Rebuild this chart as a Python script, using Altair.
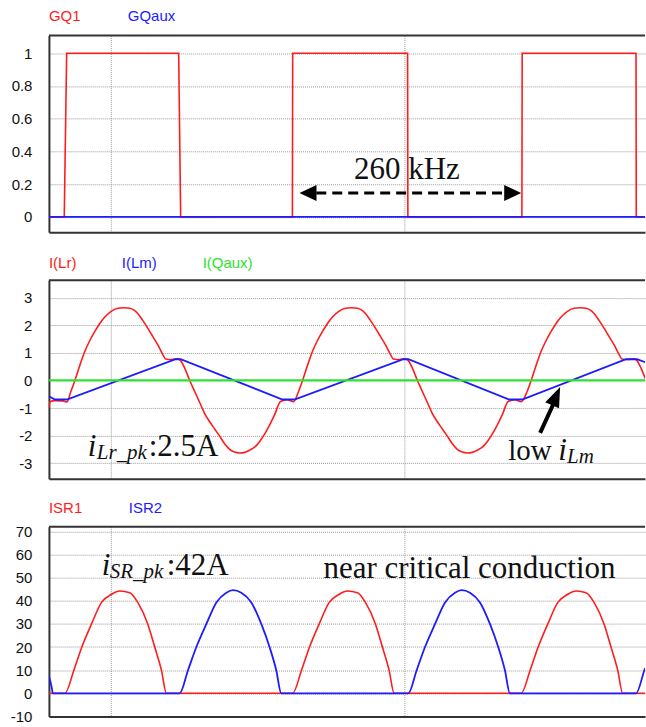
import altair as alt
import pandas as pd

# ---------------- waveform samples (time in microseconds) ----------------
# Gate drive signals
gq1_t = [3.946, 4.207, 4.248, 6.156, 6.190, 8.093, 8.098, 10.055, 10.060,
         12.002, 12.007, 13.946, 13.950, 14.099]
gq1_v = [0, 0, 1, 1, 0, 0, 1, 1, 0, 0, 1, 1, 0, 0]
gqaux_t = [3.946, 14.099]
gqaux_v = [0, 0]

# Resonant inductor current I(Lr)
ilr_t = [3.946, 3.963, 4.048, 4.184, 4.252,
         4.320, 4.388, 4.473, 4.558, 4.643, 4.728, 4.813, 4.898, 5.000, 5.119,
         5.221, 5.323, 5.459, 5.544, 5.629, 5.714, 5.799, 5.884, 5.935, 6.037,
         6.139, 6.190, 6.259, 6.344, 6.429, 6.514, 6.599, 6.684, 6.769, 6.854,
         6.939, 7.024, 7.109, 7.194, 7.279, 7.364, 7.449, 7.534, 7.619, 7.704,
         7.789, 7.891, 8.010, 8.112,
         8.198, 8.266, 8.351, 8.436, 8.521, 8.606, 8.691, 8.776, 8.878, 8.997,
         9.099, 9.201, 9.337, 9.422, 9.507, 9.592, 9.677, 9.762, 9.813, 9.915,
         10.017, 10.068, 10.137, 10.222, 10.307, 10.392, 10.477, 10.562, 10.647, 10.732,
         10.817, 10.902, 10.987, 11.072, 11.157, 11.242, 11.327, 11.412, 11.497, 11.582,
         11.667, 11.769, 11.888, 11.990,
         12.092, 12.160, 12.245, 12.330, 12.415, 12.500, 12.585, 12.670, 12.772, 12.891,
         12.993, 13.095, 13.231, 13.316, 13.401, 13.486, 13.571, 13.656, 13.707, 13.809,
         13.911, 13.962, 14.031, 14.116]
ilr_v = [-0.99, -0.77, -0.73, -0.74, -0.78,
         -0.40, 0.00, 0.55, 1.06, 1.45, 1.78, 2.07, 2.30, 2.50, 2.62,
         2.64, 2.62, 2.43, 2.18, 1.90, 1.60, 1.30, 0.95, 0.78, 0.76,
         0.79, 0.72, 0.45, 0.00, -0.40, -0.80, -1.20, -1.50, -1.76, -2.02,
         -2.30, -2.50, -2.60, -2.63, -2.61, -2.53, -2.42, -2.22, -1.95, -1.62,
         -1.25, -0.76, -0.70, -0.77,
         -0.40, 0.00, 0.55, 1.06, 1.45, 1.78, 2.07, 2.30, 2.50, 2.62,
         2.64, 2.62, 2.43, 2.18, 1.90, 1.60, 1.30, 0.95, 0.78, 0.76,
         0.79, 0.72, 0.45, 0.00, -0.40, -0.80, -1.20, -1.50, -1.76, -2.02,
         -2.30, -2.50, -2.60, -2.63, -2.61, -2.53, -2.42, -2.22, -1.95, -1.62,
         -1.25, -0.76, -0.70, -0.77,
         -0.40, 0.00, 0.55, 1.06, 1.45, 1.78, 2.07, 2.30, 2.50, 2.62,
         2.64, 2.62, 2.43, 2.18, 1.90, 1.60, 1.30, 0.95, 0.78, 0.76,
         0.79, 0.72, 0.45, 0.00]

# Magnetizing current I(Lm)
ilm_t = [3.946, 4.048, 4.252, 6.105, 6.190, 7.925, 8.129, 9.983, 10.068,
         11.786, 12.007, 13.776, 13.963, 14.099]
ilm_v = [-0.57, -0.69, -0.69, 0.77, 0.77, -0.69, -0.69, 0.77, 0.77,
         -0.69, -0.69, 0.77, 0.77, 0.66]

# Auxiliary switch current I(Qaux)
iqaux_t = [3.946, 14.099]
iqaux_v = [0, 0]

# Synchronous rectifier currents
isr1_t = [3.946, 4.218, 4.371, 4.507, 4.672, 4.842, 5.012, 5.153, 5.323, 5.459,
          5.629, 5.748, 5.862, 5.947,
          8.096, 8.249, 8.385, 8.550, 8.720, 8.890, 9.031, 9.201, 9.337, 9.507,
          9.626, 9.740, 9.825,
          11.990, 12.143, 12.279, 12.444, 12.614, 12.784, 12.925, 13.095, 13.231, 13.401,
          13.520, 13.634, 13.719, 14.099]
isr1_v = [0, 0, 10, 20, 30, 39.3, 42.8, 44.2, 43.5, 39.3,
          30, 20, 10, 0,
          0, 10, 20, 30, 39.3, 42.8, 44.2, 43.5, 39.3, 30,
          20, 10, 0,
          0, 10, 20, 30, 39.3, 42.8, 44.2, 43.5, 39.3, 30,
          20, 10, 0, 0]
isr2_t = [3.946, 3.990, 4.014,
          6.173, 6.315, 6.457, 6.628, 6.798, 6.968, 7.080, 7.223, 7.393, 7.563,
          7.704, 7.818, 7.903,
          10.068, 10.210, 10.352, 10.523, 10.693, 10.863, 10.975, 11.118, 11.288, 11.458,
          11.599, 11.713, 11.798,
          13.946, 14.088, 14.099]
isr2_v = [7.5, 3.0, 0,
          0, 10, 20, 30, 39.3, 43.5, 44.6, 43.5, 39.3, 30,
          20, 10, 0,
          0, 10, 20, 30, 39.3, 43.5, 44.6, 43.5, 39.3, 30,
          20, 10, 0,
          0, 10, 10.8]

# ---------------- styling ----------------
RED = "#ff1c1c"
BLUE = "#1c1cff"
GREEN = "#30e030"
FRAME = "#333333"
GRID = "#9a9a9a"
INK = "#111111"
SANS = "Liberation Sans"
SERIF = "Liberation Serif"

T_DOMAIN = [3.946, 14.099]
W = 597

x_scale = alt.Scale(domain=T_DOMAIN, nice=False, zero=False)
x_axis = alt.Axis(values=[5, 10], grid=True, gridColor=GRID, gridDash=[1, 1],
                  gridWidth=1, labels=False, ticks=False, domain=True,
                  domainColor=FRAME, domainWidth=2, title=None)


def y_parts(domain, ticks):
    scale = alt.Scale(domain=domain, nice=False, zero=False)
    axis = alt.Axis(values=ticks, grid=True, gridColor=GRID, gridDash=[1, 1],
                    gridWidth=1, ticks=False, labelPadding=17, labelFont=SANS,
                    labelFontSize=15, labelColor=INK, labelExpr="'' + datum.value",
                    labelOverlap=False, domain=True, domainColor=FRAME,
                    domainWidth=2, title=None)
    return scale, axis


def trace(t, v, color, width, ys, ya, interp="linear"):
    df = pd.DataFrame({"t": t, "v": v})
    return alt.Chart(df).mark_line(color=color, strokeWidth=width, clip=True,
                                   interpolate=interp).encode(
        x=alt.X("t:Q", scale=x_scale, axis=x_axis),
        y=alt.Y("v:Q", scale=ys, axis=ya),
    )


def legend(names, colors, xs, y):
    return [
        alt.Chart().mark_text(align="left", baseline="middle", font=SANS,
                              fontSize=15, color=c).encode(
            x=alt.value(px), y=alt.value(y), text=alt.value(n))
        for n, c, px in zip(names, colors, xs)
    ]


def top_border():
    return alt.Chart().mark_rule(color=FRAME, strokeWidth=2).encode(
        x=alt.value(0), x2=alt.value(W), y=alt.value(0))


def note(text, t, v, ys, ya, size=31, italic=False, dx=0, dy=0, align="left"):
    return alt.Chart().mark_text(
        align=align, baseline="alphabetic", font=SERIF, fontSize=size,
        fontStyle="italic" if italic else "normal", color=INK, dx=dx, dy=dy,
    ).encode(
        x=alt.XDatum(t, type="quantitative", scale=x_scale, axis=x_axis),
        y=alt.YDatum(v, type="quantitative", scale=ys, axis=ya),
        text=alt.value(text),
    )


HEAD_RIGHT = "M 0 0 L -2 -0.95 L -2 0.95 Z"
HEAD_LEFT = "M 0 0 L 2 -0.95 L 2 0.95 Z"
HEAD_UP = "M 0 0 L -0.75 2 L 0.75 2 Z"


def head(shape, t, v, ys, ya, size, angle=0):
    return alt.Chart().mark_point(shape=shape, size=size, angle=angle, filled=True,
                                  color="black", opacity=1, strokeWidth=0).encode(
        x=alt.XDatum(t, type="quantitative", scale=x_scale, axis=x_axis),
        y=alt.YDatum(v, type="quantitative", scale=ys, axis=ya),
    )


# ---------------- panel 1: gate signals ----------------
ys1, ya1 = y_parts([-0.093, 1.108], [0, 0.2, 0.4, 0.6, 0.8, 1])
p1 = alt.layer(
    trace(gq1_t, gq1_v, RED, 1.6, ys1, ya1),
    trace(gqaux_t, gqaux_v, BLUE, 1.8, ys1, ya1),
    top_border(),
    *legend(["GQ1", "GQaux"], [RED, BLUE], [0, 79], -19.5),
    alt.Chart().mark_rule(color="black", strokeWidth=3, strokeDash=[10, 6]).encode(
        x=alt.XDatum(8.5, type="quantitative", scale=x_scale, axis=x_axis),
        x2=alt.X2Datum(11.7),
        y=alt.YDatum(0.146, type="quantitative", scale=ys1, axis=ya1),
    ),
    head(HEAD_LEFT, 8.214, 0.146, ys1, ya1, 289),
    head(HEAD_RIGHT, 11.99, 0.146, ys1, ya1, 289),
    note("260 kHz", 10.043, 0.23, ys1, ya1, align="center"),
).properties(width=W, height=197)

# ---------------- panel 2: inductor and auxiliary currents ----------------
ys2, ya2 = y_parts([-3.569, 3.641], [-3, -2, -1, 0, 1, 2, 3])
p2 = alt.layer(
    trace(ilr_t, ilr_v, RED, 1.6, ys2, ya2, interp="monotone"),
    trace(ilm_t, ilm_v, BLUE, 1.8, ys2, ya2),
    trace(iqaux_t, iqaux_v, GREEN, 2.2, ys2, ya2),
    top_border(),
    *legend(["I(Lr)", "I(Lm)", "I(Qaux)"], [RED, BLUE, GREEN], [0, 73, 154], -17),
    note("i", 4.609, -2.735, ys2, ya2, italic=True),
    note("Lr_pk", 4.609, -2.735, ys2, ya2, size=21, italic=True, dx=9, dy=3),
    note(":2.5A", 4.609, -2.735, ys2, ya2, dx=61),
    note("low", 11.769, -2.88, ys2, ya2, size=29),
    note("i", 11.769, -2.88, ys2, ya2, italic=True, dx=50),
    note("Lm", 11.769, -2.88, ys2, ya2, size=21, italic=True, dx=59, dy=3),
    alt.Chart().mark_rule(color="black", strokeWidth=4).encode(
        x=alt.XDatum(12.313, type="quantitative", scale=x_scale, axis=x_axis),
        x2=alt.X2Datum(12.55),
        y=alt.YDatum(-1.902, type="quantitative", scale=ys2, axis=ya2),
        y2=alt.Y2Datum(-0.8),
    ),
    head(HEAD_UP, 12.653, -0.236, ys2, ya2, 400, angle=23.5),
).properties(width=W, height=199)

# ---------------- panel 3: synchronous rectifier currents ----------------
ys3, ya3 = y_parts([-10, 72], [-10, 0, 10, 20, 30, 40, 50, 60, 70])
p3 = alt.layer(
    trace(isr1_t, isr1_v, RED, 1.6, ys3, ya3, interp="monotone"),
    trace(isr2_t, isr2_v, BLUE, 1.8, ys3, ya3, interp="monotone"),
    top_border(),
    *legend(["ISR1", "ISR2"], [RED, BLUE], [0, 80], -19),
    note("i", 4.847, 51.3, ys3, ya3, italic=True),
    note("SR_pk", 4.847, 51.3, ys3, ya3, size=21, italic=True, dx=8, dy=3),
    note(":42A", 4.847, 51.3, ys3, ya3, dx=65),
    note("near critical conduction", 8.622, 50.0, ys3, ya3),
).properties(width=W, height=190)

chart = alt.vconcat(p1, p2, p3, spacing=48, bounds="flush").properties(
    padding={"left": 10, "top": 8, "right": 0, "bottom": 0},
    background="white",
).configure_view(stroke=None)

chart.save("out.html", embed_options={"renderer": "svg", "actions": False})
